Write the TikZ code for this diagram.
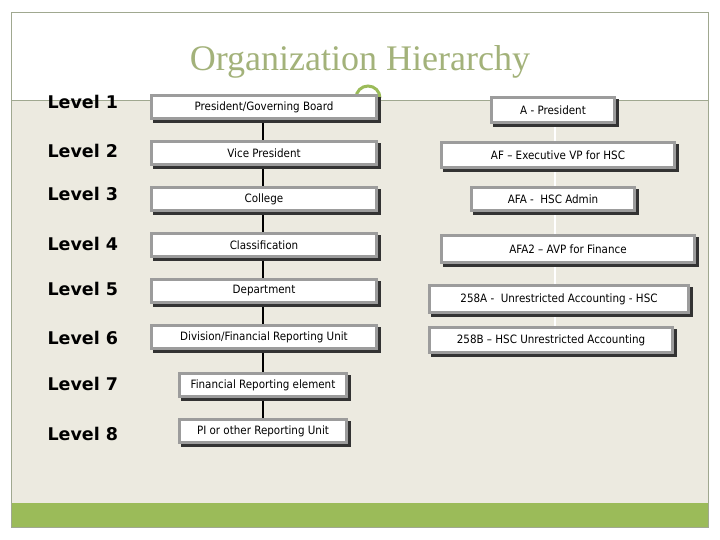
\documentclass[tikz,border=0pt]{standalone}
\usepackage{fontspec}
\setmainfont{DejaVu Sans Condensed}
\newfontfamily\titlefont{Liberation Serif}
\newfontfamily\lvlfont{DejaVu Sans}
\definecolor{beige}{HTML}{ECEAE0}
\definecolor{olive}{HTML}{9BBB59}
\definecolor{ttl}{HTML}{A3B27A}
\definecolor{frm}{HTML}{A0A890}
\definecolor{bx}{HTML}{9C9C9C}
\begin{document}
\begin{tikzpicture}[x=1pt,y=-1pt,
 box/.style={draw=bx,line width=3pt,fill=white,font=\fontsize{11.5}{13}\selectfont,inner sep=0pt},
 lvl/.style={anchor=west,font=\lvlfont\bfseries\fontsize{17.5}{20}\selectfont}]
\useasboundingbox (0,0) rectangle (720,540);
\fill[white] (0,0) rectangle (720,540);
\fill[beige] (11,100) rectangle (708,503);
\fill[olive] (11,503) rectangle (708,527);
\draw[frm,line width=0.8pt] (11,12) rectangle (708,527);
\draw[frm,line width=0.8pt] (11,100) -- (708,100);
\draw[olive,line width=3pt] (356,98) arc (180:360:12);
\node[font=\titlefont\fontsize{36}{40}\selectfont,text=ttl] (title) at (360,62) {Organization Hierarchy};
\coordinate (lt) at (263,110); \coordinate (lb) at (263,430);
\draw[line width=2.5pt] (lt) -- (lb);
\coordinate (rt) at (555,110); \coordinate (rb) at (555,340);
\draw[white,line width=2pt] (rt) -- (rb);
\foreach \n/\a/\b/\c/\d/\t in {
 l1/150/94/378/120/{President/Governing Board},
 l2/150/140/378/166/{Vice President},
 l3/150/186/378/212/{College},
 l4/150/232/378/258/{Classification},
 l5/150/278/378/304/{Department},
 l6/150/324/378/350/{Division/Financial Reporting Unit},
 l7/178/372/348/398/{Financial Reporting element},
 l8/178/418/348/444/{PI or other Reporting Unit},
 r1/490/96/616/124/{A - President},
 r2/440/141/676/169/{AF – Executive VP for HSC},
 r3/470/186/636/212/{AFA -\ \ HSC Admin},
 r4/440/234/696/264/{AFA2 – AVP for Finance},
 r5/428/284/690/314/{258A -\ \ Unrestricted Accounting - HSC},
 r6/428/326/674/354/{258B – HSC Unrestricted Accounting}}{
 \fill[black!80] (\a+3,\b+3) rectangle (\c+3,\d+3);
 \node[box,minimum width=\c-\a-3,minimum height=\d-\b-3] (\n) at ({(\a+\c)/2},{(\b+\d)/2}) {\t};
}
\foreach \n/\y/\k in {v1/102/1,v2/151/2,v3/194/3,v4/244/4,v5/289/5,v6/338/6,v7/384/7,v8/434/8}
 \node[lvl] (\n) at (44,\y) {Level \k};
\end{tikzpicture}
\end{document}
